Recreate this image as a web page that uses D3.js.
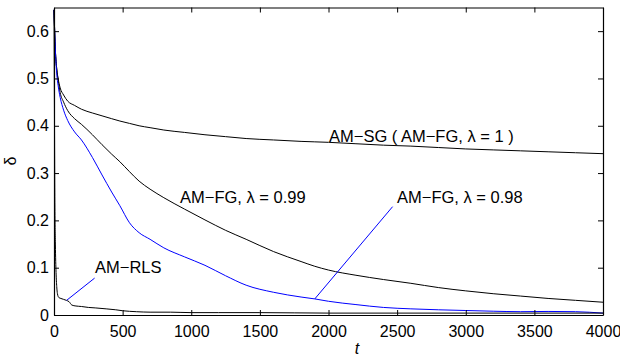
<!DOCTYPE html>
<html>
<head>
<meta charset="utf-8">
<script src="https://cdn.jsdelivr.net/npm/d3@7"></script>
<style>
  body { margin: 0; background: #fff; }
  svg { display: block; }
  text { font-family: "Liberation Sans", Arial, Helvetica, sans-serif; }
</style>
</head>
<body>
<figure id="chart" style="margin:0"></figure>
<script>
// iterations t (shared by the three slow curves)
const tMain = [0, 10, 20, 30, 45, 70, 100, 150, 200, 280, 350, 420, 480, 550, 620, 700, 800, 950,
  1100, 1250, 1400, 1600, 1800, 1900, 2000, 2200, 2400, 2600, 2800, 3000, 3200, 3400, 3600, 3800, 4000];

// AM-SG (AM-FG, lambda = 1)
const sgVals = [0.645, 0.56, 0.52, 0.50, 0.48, 0.465, 0.452, 0.443, 0.435, 0.427, 0.421, 0.415, 0.410, 0.405,
  0.400, 0.396, 0.391, 0.386, 0.381, 0.377, 0.373, 0.370, 0.367, 0.366, 0.365, 0.362, 0.359, 0.357, 0.354,
  0.351, 0.349, 0.347, 0.345, 0.343, 0.341];

// AM-FG, lambda = 0.99
const fg99Vals = [0.645, 0.56, 0.52, 0.497, 0.47, 0.45, 0.432, 0.415, 0.403, 0.381, 0.36, 0.34, 0.324, 0.303,
  0.283, 0.266, 0.248, 0.224, 0.201, 0.179, 0.160, 0.134, 0.113, 0.103, 0.095, 0.084, 0.075, 0.067, 0.058,
  0.051, 0.045, 0.040, 0.035, 0.031, 0.027];

// AM-FG, lambda = 0.98
const fg98Vals = [0.645, 0.56, 0.51, 0.485, 0.46, 0.433, 0.411, 0.387, 0.370, 0.333, 0.296, 0.260, 0.231, 0.195,
  0.174, 0.16, 0.142, 0.123, 0.105, 0.083, 0.063, 0.048, 0.038, 0.034, 0.029, 0.022, 0.016, 0.013, 0.011,
  0.0095, 0.008, 0.007, 0.0075, 0.007, 0.004];

// AM-RLS
const tRls = [0, 3, 6, 10, 15, 20, 25, 35, 50, 70, 90, 110, 130, 160, 200, 250, 300, 380, 450, 500, 600, 700,
  850, 1000, 1200, 1500, 2000, 2500, 3000, 3500, 4000];
const rlsVals = [0.645, 0.45, 0.25, 0.15, 0.09, 0.06, 0.045, 0.037, 0.035, 0.033, 0.031, 0.028, 0.021, 0.019,
  0.018, 0.016, 0.015, 0.013, 0.011, 0.009, 0.007, 0.006, 0.006, 0.005, 0.005, 0.005, 0.004, 0.004, 0.004,
  0.004, 0.004];

const xTicks = [0, 500, 1000, 1500, 2000, 2500, 3000, 3500, 4000];
const yTicks = [0, 0.1, 0.2, 0.3, 0.4, 0.5, 0.6];

const W = 620, H = 357;
const mLeft = 54, mRight = 603, mTop = 7.5, mBottom = 315;

const svg = d3.select('figure#chart')
    .append('svg')
    .attr('width', W)
    .attr('height', H);

const x = d3.scaleLinear().domain([0, 4000]).range([mLeft, mRight]);
const y = d3.scaleLinear().domain([0, 0.65]).range([mBottom, mTop]);

const yFmt = d => d === 0 ? '0' : d3.format('.1f')(d);

// curves
const line = (ts, vs) => d3.line()
    .x((d, i) => x(ts[i]))
    .y(d => y(d))
    .curve(d3.curveMonotoneX)(vs);

const curves = [
  {vals: sgVals, ts: tMain, color: '#000'},
  {vals: fg99Vals, ts: tMain, color: '#000'},
  {vals: fg98Vals, ts: tMain, color: '#0000ff'},
  {vals: rlsVals, ts: tRls, color: '#000'}
];

svg.append('g').selectAll('path')
    .data(curves)
    .enter()
    .append('path')
    .attr('d', c => line(c.ts, c.vals))
    .attr('fill', 'none')
    .attr('stroke', c => c.color)
    .attr('stroke-width', 1);

// axes (box with inward ticks on every side)
const styleAxis = g => {
  g.select('.domain').attr('stroke', '#000').attr('stroke-width', 1.2);
  g.selectAll('.tick line').attr('stroke', '#000');
  g.selectAll('text').attr('fill', '#000').style('font-size', '16px');
};

svg.append('g')
    .attr('transform', 'translate(0,' + mBottom + ')')
    .call(d3.axisBottom(x).tickValues(xTicks).tickSizeInner(-5).tickSizeOuter(0).tickPadding(11).tickFormat(d3.format('d')))
    .call(styleAxis);

svg.append('g')
    .attr('transform', 'translate(0,' + mTop + ')')
    .call(d3.axisTop(x).tickValues(xTicks).tickSizeInner(-5).tickSizeOuter(0).tickFormat(''))
    .call(styleAxis);

svg.append('g')
    .attr('transform', 'translate(' + mLeft + ',0)')
    .call(d3.axisLeft(y).tickValues(yTicks).tickSizeInner(-5).tickSizeOuter(0).tickPadding(5).tickFormat(yFmt))
    .call(styleAxis);

svg.append('g')
    .attr('transform', 'translate(' + mRight + ',0)')
    .call(d3.axisRight(y).tickValues(yTicks).tickSizeInner(-5).tickSizeOuter(0).tickFormat(''))
    .call(styleAxis);

// annotation pointers
const pointers = [
  {from: [2467, 0.229], to: [1900, 0.034]},
  {from: [296, 0.078], to: [92, 0.031]}
];
svg.append('g').selectAll('line')
    .data(pointers)
    .enter()
    .append('line')
    .attr('x1', d => x(d.from[0]))
    .attr('y1', d => y(d.from[1]))
    .attr('x2', d => x(d.to[0]))
    .attr('y2', d => y(d.to[1]))
    .attr('stroke', '#0000ff')
    .attr('stroke-width', 1);

// curve labels
const labels = [
  {text: 'AM\u2212SG ( AM\u2212FG, \u03bb = 1 )', px: 329, py: 142},
  {text: 'AM\u2212FG, \u03bb = 0.99', px: 180, py: 203},
  {text: 'AM\u2212FG, \u03bb = 0.98', px: 397, py: 203},
  {text: 'AM\u2212RLS', px: 95, py: 273}
];
svg.append('g').selectAll('text')
    .data(labels)
    .enter()
    .append('text')
    .attr('x', d => d.px)
    .attr('y', d => d.py)
    .style('font-size', '16.5px')
    .text(d => d.text);

// axis titles
svg.append('text')
    .attr('x', 357)
    .attr('y', 354)
    .attr('text-anchor', 'middle')
    .style('font-size', '16px')
    .style('font-style', 'italic')
    .text('t');

svg.append('text')
    .attr('transform', 'translate(16,161)rotate(-90)')
    .attr('text-anchor', 'middle')
    .style('font-size', '16px')
    .text('\u03b4');
</script>
</body>
</html>
